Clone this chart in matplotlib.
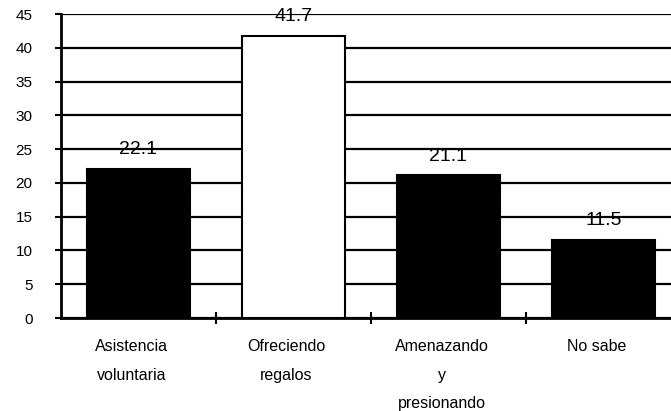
import matplotlib
matplotlib.use("Agg")
import matplotlib.pyplot as plt
from matplotlib.transforms import offset_copy
import numpy as np

plt.rcParams['font.family'] = ['Liberation Sans', 'DejaVu Sans']

categories = ["Asistencia\nvoluntaria", "Ofreciendo\nregalos", "Amenazando\ny\npresionando", "No sabe"]
values = [22.1, 41.7, 21.1, 11.5]
bar_colors = ["black", "white", "black", "black"]
yticks = [0, 5, 10, 15, 20, 25, 30, 35, 40, 45]

fig = plt.figure(figsize=(6.71, 4.11), dpi=100)
# axes runs slightly past the right edge, as in the original scan
ax = fig.add_axes([61 / 671, 93 / 411, 620 / 671, 304 / 411])

x = np.arange(len(categories))
ax.bar(x, values, width=0.66, color=bar_colors, edgecolor="black", linewidth=1.5, zorder=3)

# value labels sit behind the gridlines, like in the scan
lab_tr = offset_copy(ax.transData, fig=fig, x=0, y=14, units="points")
for xi, v in zip(x, values):
    ax.text(xi, v, f"{v:.1f}", ha="center", va="center", fontsize=14,
            transform=lab_tr, zorder=0.5)

ax.set_ylim(0, 45)
ax.set_xlim(-0.5, 3.5)
ax.set_yticks(yticks)
ax.set_yticklabels([str(t) for t in yticks], fontsize=11)
ax.yaxis.grid(True, color="black", linewidth=1.6)
for gl in ax.get_ygridlines():
    gl.set_zorder(1)

ax.set_xticks(x)
ax.set_xticklabels(categories, fontsize=11.5, linespacing=2.15, va="top")
ax.set_xticks([0.5, 1.5, 2.5], minor=True)
ax.tick_params(axis="x", which="major", length=0, pad=15)
ax.tick_params(axis="x", which="minor", length=8, width=1.5, direction="inout")
ax.tick_params(axis="y", length=4.5, width=1.5, direction="out", pad=16)

# labels in the scan are a little left of the bar centres
for lbl in ax.get_xticklabels():
    lbl.set_transform(lbl.get_transform() + matplotlib.transforms.ScaledTranslation(-7 / 100, 0, fig.dpi_scale_trans))

for side in ["top", "right"]:
    ax.spines[side].set_visible(False)
ax.spines["left"].set_linewidth(2)
ax.spines["bottom"].set_linewidth(2)

plt.savefig("out.png", dpi=100)
